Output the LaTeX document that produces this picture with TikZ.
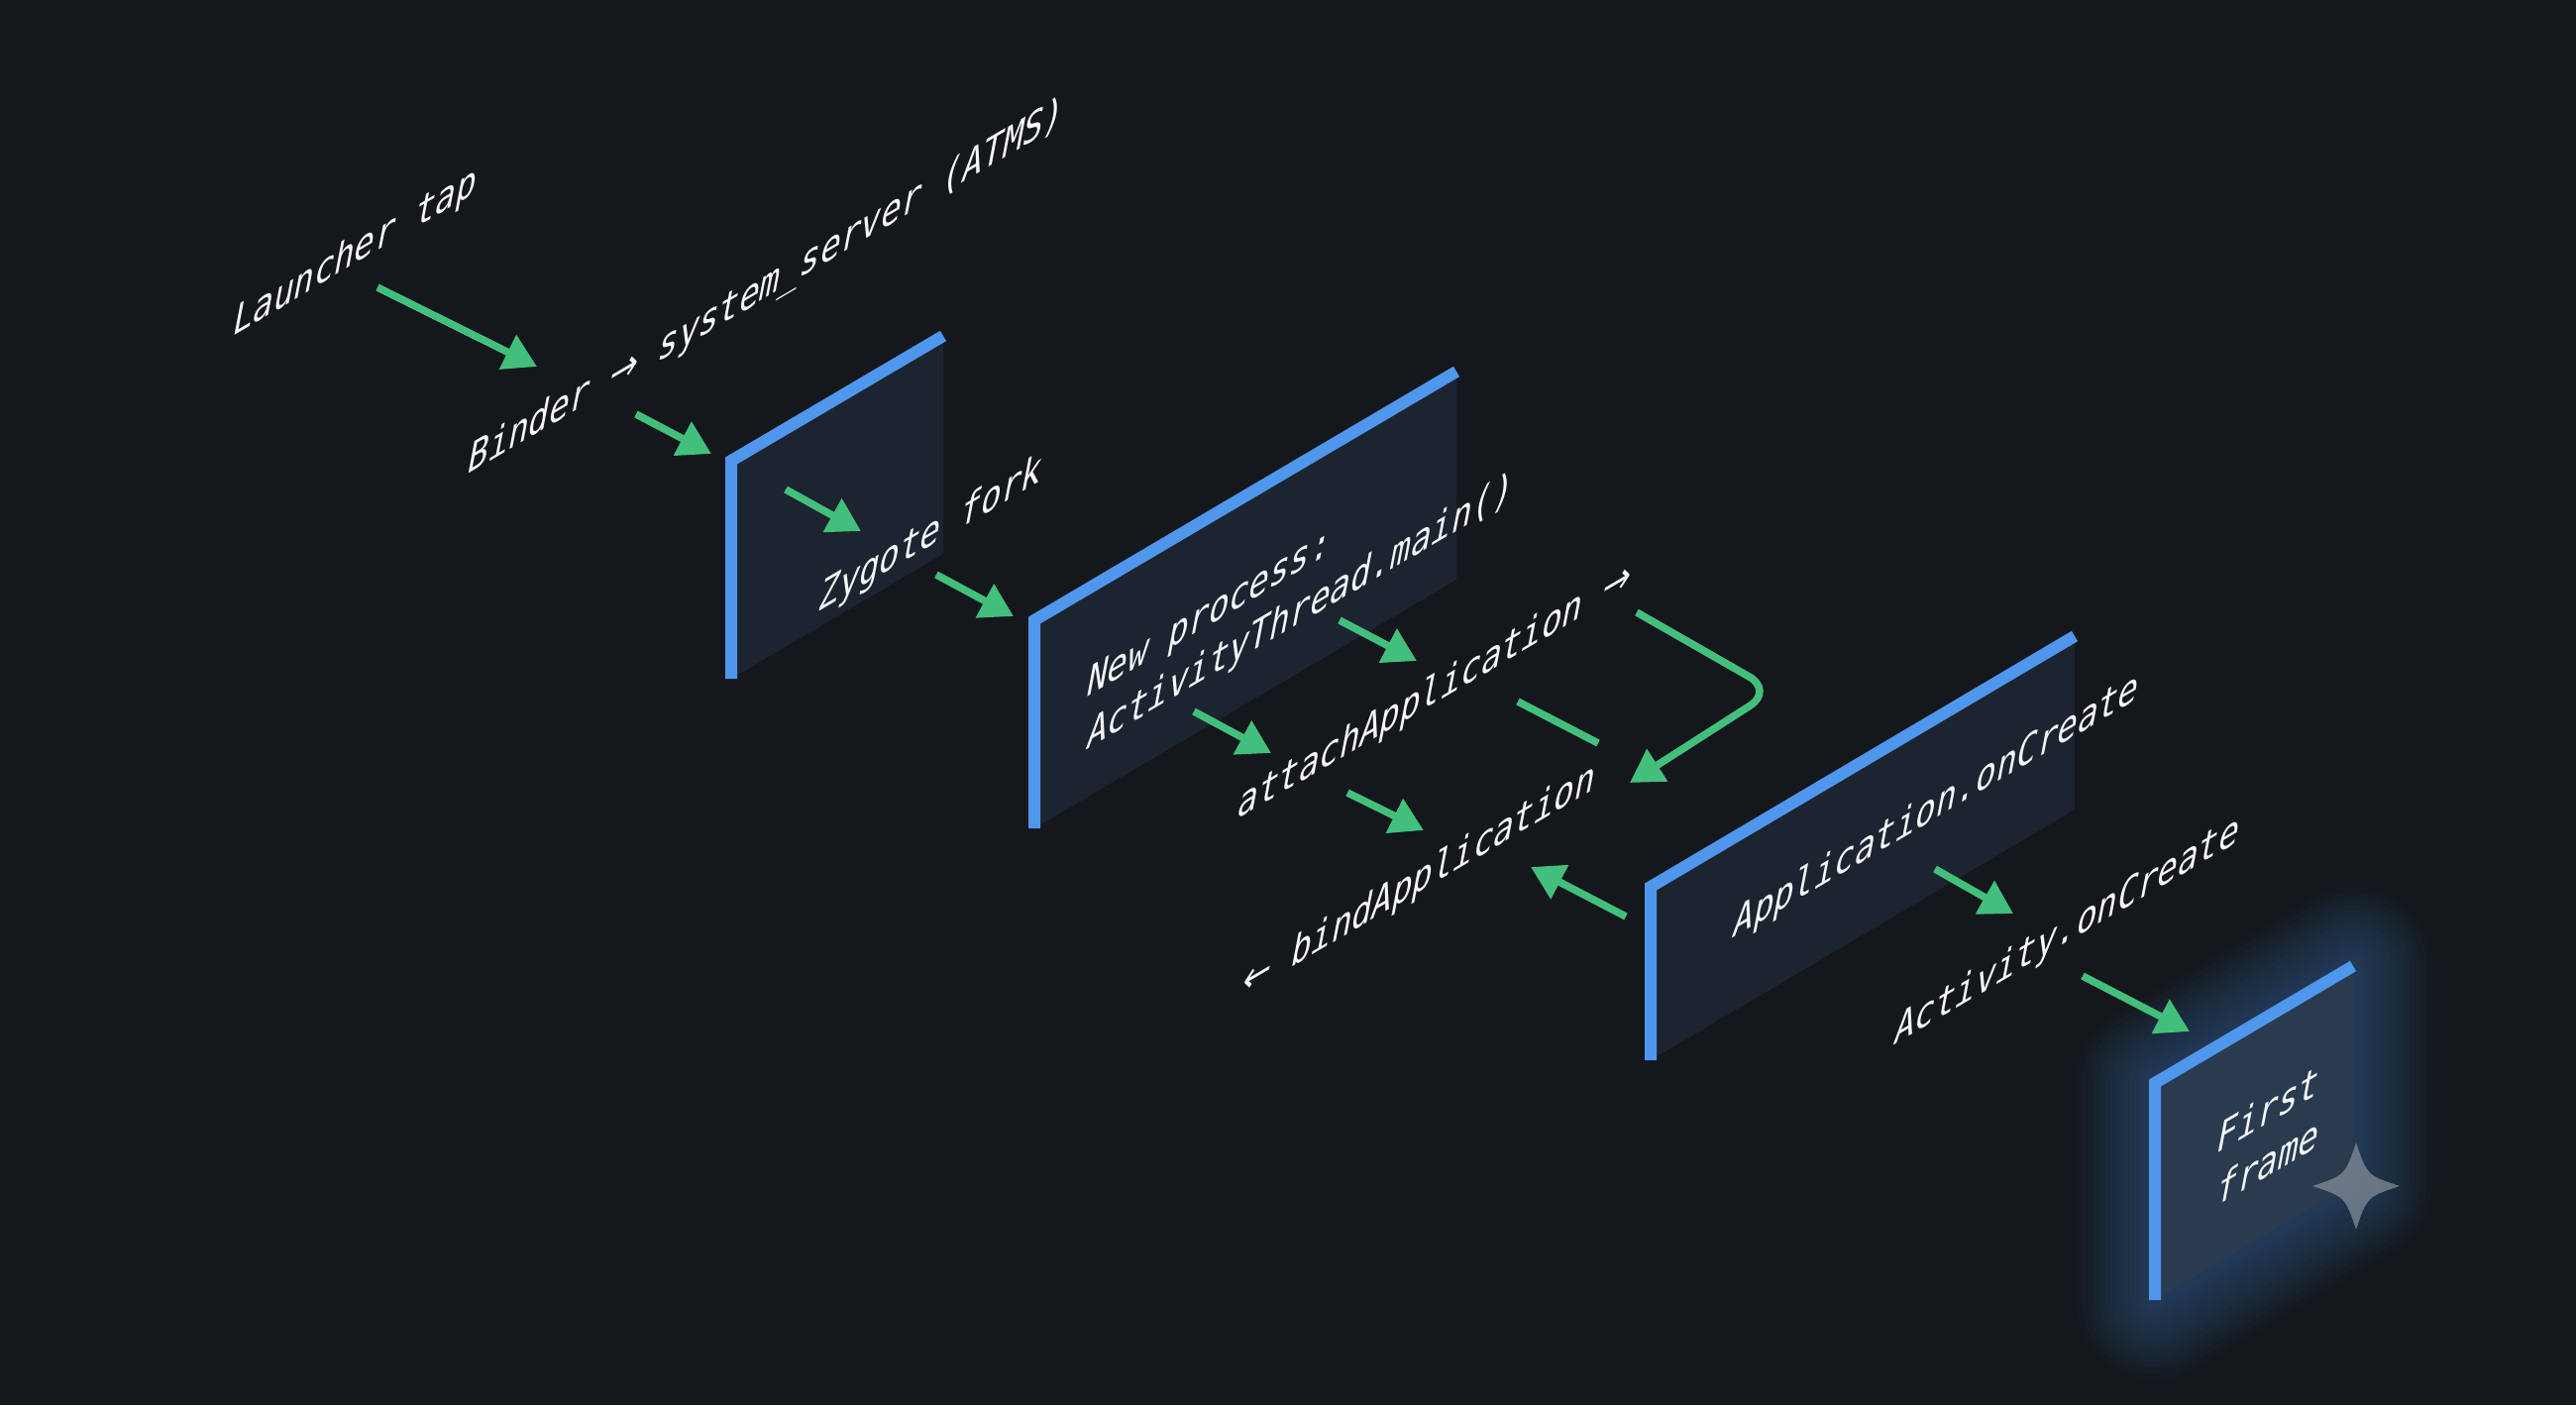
\documentclass[tikz,border=0pt]{standalone}
\usepackage{fontspec}
\newfontfamily\codefont{DejaVu Sans Mono}[FakeSlant=0.25]
\newfontfamily\arrowfont{DejaVu Sans}[FakeSlant=0.25]
\newcommand{\rarr}{{\arrowfont →}}
\newcommand{\larr}{{\arrowfont ←}}
\usetikzlibrary{arrows.meta}
\definecolor{bg}{HTML}{14171C}
\definecolor{face}{HTML}{1C2430}
\definecolor{faceglow}{HTML}{2A3B4F}
\definecolor{edge}{HTML}{4F97EC}
\definecolor{flow}{HTML}{43BF7C}
\definecolor{txt}{HTML}{F4F6F8}
\definecolor{starc}{HTML}{8A929C}
\begin{document}
\begin{tikzpicture}[x=0.01cm,y=-0.01cm,
  iso/.style={cm={0.862,0.508,0,1,(0,0)}, text=txt, inner sep=0pt,
    font=\codefont\fontsize{11.2}{15}\selectfont},
  flowarrow/.style={draw=flow, line width=0.075cm, -{Triangle[length=0.33cm,width=0.37cm]}},
  flowline/.style={draw=flow, line width=0.075cm},
  panelface/.style={fill=face},
  paneledge/.style={draw=edge, line width=0.12cm, line join=miter}]
% background
\fill[bg] (0,0) rectangle (2600,1418);
\useasboundingbox (0,0) rectangle (2600,1418);

% panel corners
\coordinate (p1tl) at (738,465);  \coordinate (p1tr) at (952,339);
\coordinate (p1br) at (952,559);  \coordinate (p1bl) at (738,685);
\coordinate (p2tl) at (1044,626); \coordinate (p2tr) at (1470,375);
\coordinate (p2br) at (1470,585); \coordinate (p2bl) at (1044,836);
\coordinate (p3tl) at (1666,895); \coordinate (p3tr) at (2094,642);
\coordinate (p3br) at (2094,817); \coordinate (p3bl) at (1666,1070);
\coordinate (p4tl) at (2175,1093); \coordinate (p4tr) at (2375,975);
\coordinate (p4br) at (2375,1194); \coordinate (p4bl) at (2175,1312);

% glow of last panel
\foreach \w in {1.6,1.48,...,0.1}{
  \draw[edge, line width=\w cm, opacity=0.026, line join=round]
    (p4tl) -- (p4tr) -- (p4br) -- (p4bl) -- cycle;
}

% panels
\foreach \p in {p1,p2,p3}{
  \fill[panelface] (\p tl) -- (\p tr) -- (\p br) -- (\p bl) -- cycle;
  \draw[paneledge] (\p bl) -- (\p tl) -- (\p tr);
}
\fill[faceglow] (p4tl) -- (p4tr) -- (p4br) -- (p4bl) -- cycle;
\draw[paneledge] (p4bl) -- (p4tl) -- (p4tr);

% texts
\node[iso] (t1) at (356,257) {Launcher tap};
\node[iso] (t2) at (771,292) {Binder \rarr{} system\_server (ATMS)};
\node[iso] (t3) at (937,542) {Zygote fork};
\node[iso, align=left] (t4) at (1310,594) {New process:\\ActivityThread.main()};
\node[iso] (t5) at (1446,700) {attachApplication \rarr};
\node[iso] (t6) at (1430,891) {\larr{} bindApplication};
\node[iso] (t7) at (1952,816) {Application.onCreate};
\node[iso] (t8) at (2084,942) {Activity.onCreate};
\node[iso, align=center] (t9) at (2287,1147) {First\\frame};

% sparkle
\fill[starc, opacity=0.7] (2378,1153) .. controls (2389,1186) .. (2422,1197)
  .. controls (2389,1208) .. (2378,1241) .. controls (2367,1208) .. (2334,1197)
  .. controls (2367,1186) .. cycle;

% arrow end points
\coordinate (a1s) at (381,290);   \coordinate (a1e) at (542,370);
\coordinate (a2s) at (642,418);   \coordinate (a2e) at (718,458);
\coordinate (a3s) at (793,494);   \coordinate (a3e) at (869,536);
\coordinate (a4s) at (945,580);   \coordinate (a4e) at (1023,622);
\coordinate (a5s) at (1352,626);  \coordinate (a5e) at (1430,667);
\coordinate (a6s) at (1205,718);  \coordinate (a6e) at (1283,760);
\coordinate (a7s) at (1360,800);  \coordinate (a7e) at (1437,838);
\coordinate (a8s) at (1641,925);  \coordinate (a8e) at (1545,875);
\coordinate (a9s) at (1953,877);  \coordinate (a9e) at (2032,922);
\coordinate (a10s) at (2102,985); \coordinate (a10e) at (2210,1041);
\coordinate (b1) at (1652,618); \coordinate (b2) at (1790,697); \coordinate (b3) at (1645,790);
\coordinate (d1) at (1532,708); \coordinate (d2) at (1613,750);

\foreach \i in {1,...,10}{ \draw[flowarrow] (a\i s) -- (a\i e); }
\draw[flowarrow, rounded corners=0.28cm] (b1) -- (b2) -- (b3);
\draw[flowline] (d1) -- (d2);
\end{tikzpicture}
\end{document}
